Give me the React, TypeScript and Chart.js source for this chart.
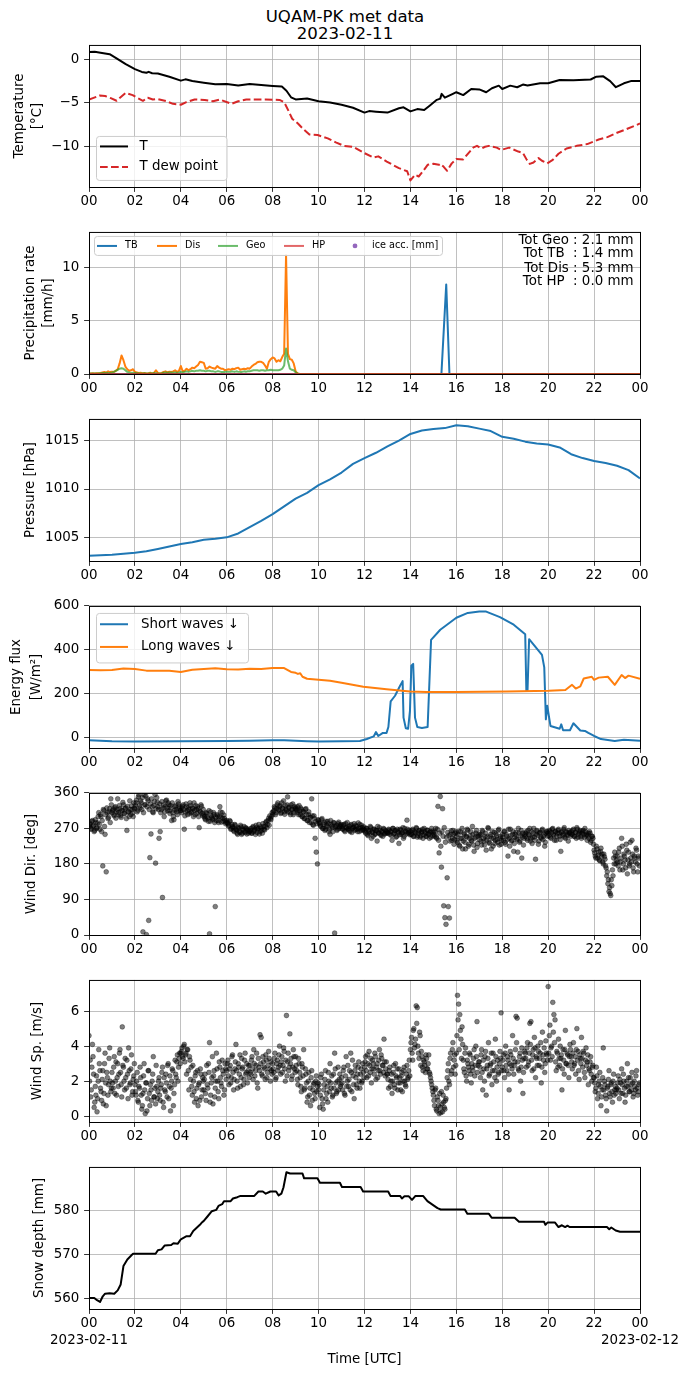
import { useEffect, useRef } from 'react';
import { Chart, registerables } from 'chart.js';

Chart.register(...registerables);

const FONT = 'DejaVu Sans';
const TXT = 13.4;

// ---------------- text / ticks ----------------
const titleLines = ['UQAM-PK met data', '2023-02-11'];
const hourTicks = [0, 2, 4, 6, 8, 10, 12, 14, 16, 18, 20, 22, 24];
const dayLabels = ['2023-02-11', '2023-02-12'];
const tempTicks = [-10, -5, 0];
const precipTicks = [0, 5, 10];
const presTicks = [1005, 1010, 1015];
const fluxTicks = [0, 200, 400, 600];
const dirTicks = [0, 90, 180, 270, 360];
const speedTicks = [0, 2, 4, 6];
const snowTicks = [560, 570, 580];

const tempLegend = ['T', 'T dew point'];
const precipLegend = ['TB', 'Dis', 'Geo', 'HP', 'ice acc. [mm]'];
const fluxLegend = ['Short waves \u2193', 'Long waves \u2193'];
const totNames = ['Geo', 'TB ', 'Dis', 'HP '];
const totValues = [2.1, 1.4, 5.3, 0.0];

// ---------------- data ----------------
// [hour, °C]
const tempT: [number, number][] = [
  [0, 0.83], [0.25, 0.85], [0.5, 0.75], [0.9, 0.57], [1.2, 0.1], [1.6, -0.57], [2.0, -1.13], [2.3, -1.45],
  [2.5, -1.55], [2.6, -1.44], [2.75, -1.6], [3.0, -1.63], [3.5, -2.0], [4.0, -2.45], [4.2, -2.3], [4.5, -2.5],
  [5.0, -2.68], [5.5, -2.87], [6.0, -2.83], [6.5, -3.0], [7.0, -2.83], [7.5, -2.95], [8.0, -3.05], [8.4, -3.13],
  [8.6, -3.6], [8.8, -4.35], [9.0, -4.6], [9.5, -4.5], [10.0, -4.8], [10.5, -4.95], [11.0, -5.2], [11.5, -5.55],
  [12.0, -6.1], [12.2, -5.93], [12.5, -6.0], [13.0, -6.1], [13.5, -5.6], [13.7, -5.5], [14.0, -5.96], [14.3, -5.7],
  [14.6, -5.8], [14.85, -5.28], [15.15, -4.64], [15.3, -4.5], [15.36, -3.96], [15.5, -4.4], [15.85, -3.96], [16.0, -3.77],
  [16.3, -4.1], [16.65, -3.4], [17.0, -3.45], [17.3, -3.77], [17.55, -3.32], [17.85, -3.02], [18.0, -3.4], [18.35, -3.02],
  [18.65, -3.2], [18.9, -2.9], [19.1, -3.0], [19.65, -2.75], [20.0, -2.75], [20.5, -2.38], [21.1, -2.4], [21.85, -2.32],
  [22.1, -2.0], [22.4, -1.96], [22.7, -2.5], [22.95, -3.2], [23.3, -2.75], [23.6, -2.5], [24.0, -2.5],
];
const dewT: [number, number][] = [
  [0, -4.6], [0.47, -4.15], [0.7, -4.2], [0.95, -4.45], [1.2, -4.75], [1.35, -4.4], [1.6, -3.85], [1.9, -4.1],
  [2.1, -4.4], [2.35, -4.75], [2.56, -4.4], [2.78, -4.6], [3.0, -4.55], [3.37, -4.8], [3.66, -5.1], [4.0, -5.2],
  [4.24, -4.9], [4.6, -4.6], [5.04, -4.65], [5.4, -4.8], [5.7, -4.6], [6.2, -5.1], [6.5, -4.8], [6.85, -4.6],
  [7.7, -4.6], [8.3, -4.65], [8.5, -4.9], [8.68, -5.85], [8.85, -6.8], [9.1, -7.35], [9.3, -7.9], [9.6, -8.6],
  [9.96, -8.66], [10.4, -9.05], [10.75, -9.5], [11.1, -9.9], [11.5, -10.0], [11.95, -10.67], [12.39, -11.24], [12.6, -11.1],
  [12.97, -11.7], [13.5, -12.45], [13.86, -12.8], [14.0, -13.85], [14.2, -13.2], [14.36, -13.4], [14.55, -12.8], [14.75, -12.07],
  [15.0, -11.95], [15.24, -12.07], [15.3, -11.95], [15.45, -12.3], [15.6, -12.75], [15.8, -11.9], [16.0, -11.4], [16.3, -11.45],
  [16.52, -10.75], [16.75, -10.07], [16.9, -9.9], [17.1, -10.2], [17.25, -10.0], [17.42, -9.9], [17.76, -10.1], [17.95, -10.37],
  [18.3, -10.1], [18.7, -10.55], [18.9, -10.7], [19.07, -11.5], [19.2, -11.96], [19.36, -11.8], [19.58, -11.3], [19.73, -11.6],
  [19.96, -11.9], [20.2, -11.5], [20.45, -10.8], [20.8, -10.2], [21.24, -9.9], [21.7, -9.7], [22.2, -9.17], [22.58, -8.9],
  [23.0, -8.4], [23.4, -8.0], [24.0, -7.35],
];

// precipitation rate [mm/h], 5-minute values, one row per hour (from 00 UTC)
const disRows: number[][] = [
  [0.05, 0.04, 0.06, 0.05, 0.08, 0.06, 0.1, 0.15, 0.2, 0.12, 0.25, 0.18],
  [0.22, 0.2, 0.3, 0.45, 1.0, 1.75, 1.3, 0.7, 0.45, 0.3, 0.35, 0.45],
  [0.2, 0.15, 0.1, 0.12, 0.08, 0.1, 0.05, 0.08, 0.12, 0.05, 0.1, 0.35],
  [0.1, 0.05, 0.1, 0.2, 0.25, 0.15, 0.22, 0.2, 0.25, 0.35, 0.2, 0.3],
  [0.75, 0.25, 0.3, 0.5, 0.35, 0.45, 0.6, 0.55, 0.7, 0.85, 1.15, 1.1],
  [1.05, 0.5, 0.55, 0.7, 0.6, 0.55, 0.5, 0.75, 0.6, 0.5, 0.5, 0.37],
  [0.4, 0.45, 0.4, 0.5, 0.45, 0.55, 0.6, 0.4, 0.45, 0.5, 0.45, 0.55],
  [0.5, 0.7, 0.85, 0.95, 1.1, 1.15, 1.15, 1.05, 0.8, 0.5, 1.15, 1.4],
  [1.56, 1.47, 1.15, 1.3, 1.2, 1.6, 1.9, 11.2, 1.9, 1.4, 1.35, 1.0],
  [0.25, 0.05, 0, 0],
];
const geoRows: number[][] = [
  [0.05, 0.05, 0.05, 0.05, 0.05, 0.06, 0.08, 0.1, 0.1, 0.12, 0.1, 0.12],
  [0.15, 0.2, 0.3, 0.4, 0.5, 0.55, 0.5, 0.35, 0.2, 0.15, 0.1, 0.12],
  [0.1, 0.08, 0.06, 0.05, 0.05, 0.06, 0.05, 0.05, 0.06, 0.05, 0.1, 0.06],
  [0.05, 0.05, 0.08, 0.12, 0.15, 0.12, 0.15, 0.15, 0.12, 0.15, 0.12, 0.15],
  [0.2, 0.15, 0.2, 0.25, 0.2, 0.25, 0.3, 0.25, 0.3, 0.3, 0.35, 0.3],
  [0.3, 0.25, 0.3, 0.3, 0.25, 0.25, 0.2, 0.25, 0.25, 0.2, 0.2, 0.2],
  [0.22, 0.2, 0.22, 0.25, 0.2, 0.25, 0.22, 0.2, 0.2, 0.25, 0.22, 0.25],
  [0.25, 0.3, 0.35, 0.35, 0.35, 0.3, 0.35, 0.35, 0.3, 0.35, 0.35, 0.4],
  [0.35, 0.35, 0.35, 0.35, 0.4, 0.5, 0.8, 2.4, 1.2, 0.5, 0.4, 0.35],
  [0.15, 0.05, 0, 0],
];
const dryTail: [number, number][] = [[24, 0]];
const tbRate: [number, number][] = [[0, 0], [15.35, 0], [15.56, 8.45], [15.7, 0], [24, 0]];
const hpRate: [number, number][] = [[0, 0], [24, 0]];

// pressure [hPa], every 30 min
const pressure = [
  1003.1, 1003.15, 1003.2, 1003.3, 1003.4, 1003.55, 1003.8, 1004.05, 1004.3, 1004.5, 1004.75, 1004.85,
  1005.0, 1005.4, 1006.05, 1006.7, 1007.4, 1008.2, 1009.0, 1009.6, 1010.4, 1011.0, 1011.7, 1012.6,
  1013.2, 1013.75, 1014.4, 1015.0, 1015.7, 1016.05, 1016.2, 1016.3, 1016.6, 1016.5, 1016.25, 1016.0,
  1015.4, 1015.2, 1014.9, 1014.7, 1014.6, 1014.3, 1013.6, 1013.2, 1012.9, 1012.7, 1012.4, 1011.95, 1011.1,
];

// energy flux [W/m2]
const shortWave: [number, number][] = [
  [0, -14], [1, -19], [2, -20], [4, -19], [6, -18], [7, -17], [8, -14], [8.5, -15], [9.5, -19], [10, -20],
  [11, -19], [11.8, -18], [12.1, -9], [12.4, 3], [12.5, 23], [12.6, 5], [12.8, 19], [12.96, 19], [13.04, 46],
  [13.14, 163], [13.33, 189], [13.55, 235], [13.66, 256], [13.7, 89], [13.8, 40], [13.9, 38], [13.98, 120],
  [14.04, 327], [14.12, 335], [14.2, 89], [14.3, 46], [14.5, 42], [14.75, 46], [14.9, 445], [15.3, 491],
  [16, 546], [16.5, 568], [17, 575], [17.3, 574], [17.9, 549], [18.5, 514], [19.0, 470], [19.05, 212],
  [19.1, 212], [19.17, 448], [19.73, 376], [19.83, 319], [19.9, 81], [19.96, 143], [20.1, 51], [20.5, 38],
  [20.57, 58], [20.65, 31], [20.95, 31], [21.1, 63], [21.4, 30], [21.6, 28], [21.75, 19], [22.0, 5],
  [22.3, -9], [22.9, -18], [23.3, -12], [24, -17],
];
const longWave: [number, number][] = [
  [0, 307], [0.5, 306], [1, 307], [1.5, 314], [2, 311], [2.5, 304], [3, 304], [3.5, 303], [4, 298], [4.5, 308],
  [5, 312], [5.5, 315], [6, 310], [6.5, 309], [7, 313], [7.5, 312], [8, 316], [8.5, 316], [8.8, 298], [9.0, 294],
  [9.1, 289], [9.2, 292], [9.3, 276], [9.5, 267], [10, 262], [10.5, 258], [11, 249], [11.95, 230], [12.96, 219],
  [13.98, 209], [14.7, 206], [16, 206], [18.2, 209], [20.03, 212], [20.75, 215], [21.04, 239], [21.2, 222],
  [21.4, 232], [21.55, 268], [21.9, 276], [22.0, 262], [22.2, 272], [22.6, 276], [22.9, 239], [23.2, 284],
  [23.35, 270], [23.5, 281], [24, 267],
];

// wind direction [deg], 3-minute samples, one row per hour
const windDirRows: number[][] = [
  [275, 282, 268, 290, 278, 265, 285, 272, 300, 280, 305, 262, 175, 315, 255, 160, 310, 298, 320, 345],
  [310, 318, 302, 325, 312, 345, 305, 320, 298, 315, 330, 308, 322, 265, 312, 300, 318, 327, 309, 335],
  [320, 335, 312, 350, 328, 340, 318, 8, 355, 330, 1, 345, 37, 196, 256, 325, 310, 338, 182, 348],
  [325, 245, 262, 318, 95, 330, 312, 340, 322, 335, 315, 328, 290, 310, 292, 325, 318, 305, 332, 320],
  [315, 322, 330, 268, 312, 325, 305, 318, 335, 310, 322, 300, 316, 328, 308, 320, 272, 312, 326, 302],
  [305, 295, 310, 300, 288, 3, 312, 298, 292, 305, 72, 290, 302, 285, 325, 298, 310, 288, 295, 282],
  [290, 282, 278, 288, 270, 275, 265, 280, 268, 258, 272, 262, 278, 255, 268, 275, 260, 270, 265, 258],
  [262, 270, 258, 275, 265, 255, 272, 268, 280, 262, 270, 258, 275, 266, 285, 272, 290, 278, 295, 300],
  [305, 315, 322, 310, 330, 318, 325, 308, 335, 320, 312, 328, 316, 350, 322, 310, 330, 318, 305, 325],
  [322, 315, 310, 328, 305, 318, 300, 312, 295, 320, 290, 305, 285, 298, 345, 280, 302, 245, 210, 180],
  [290, 282, 275, 295, 270, 285, 268, 278, 288, 262, 255, 280, 272, 285, 5, 275, 265, 282, 270, 278],
  [275, 268, 280, 262, 272, 285, 270, 265, 278, 260, 272, 282, 268, 275, 262, 270, 280, 265, 272, 268],
  [265, 258, 270, 252, 262, 275, 245, 260, 268, 255, 265, 238, 260, 272, 255, 262, 250, 268, 258, 262],
  [260, 268, 255, 262, 240, 270, 258, 265, 250, 262, 232, 268, 255, 260, 245, 270, 262, 291, 258, 265],
  [262, 255, 268, 250, 260, 272, 248, 258, 265, 252, 262, 245, 270, 258, 250, 265, 255, 260, 248, 262],
  [260, 250, 270, 245, 326, 208, 351, 172, 320, 74, 44, 27, 145, 72, 43, 255, 240, 265, 230, 258],
  [250, 235, 262, 225, 245, 270, 238, 255, 218, 248, 265, 230, 252, 240, 275, 228, 245, 258, 222, 250],
  [242, 255, 228, 262, 238, 250, 215, 248, 270, 232, 255, 245, 225, 260, 240, 252, 235, 268, 245, 230],
  [255, 240, 262, 230, 250, 200, 245, 268, 238, 255, 212, 248, 260, 242, 270, 235, 252, 195, 258, 245],
  [250, 262, 240, 255, 270, 245, 232, 258, 248, 192, 265, 252, 238, 260, 245, 268, 250, 225, 258, 262],
  [258, 265, 248, 260, 270, 252, 262, 240, 258, 268, 250, 212, 262, 255, 272, 245, 260, 252, 265, 258],
  [262, 255, 268, 250, 260, 272, 248, 258, 265, 245, 262, 255, 270, 252, 240, 258, 262, 235, 250, 245],
  [215, 200, 225, 195, 210, 188, 220, 205, 180, 198, 175, 150, 130, 110, 105, 140, 165, 195, 210, 180],
  [200, 175, 220, 185, 245, 165, 205, 190, 230, 155, 210, 180, 195, 240, 170, 200, 185, 215, 160, 195],
];
// second set of samples, taken 1.5 min after each of the above
const windDirRowsB: number[][] = [
  [280, 270, 288, 276, 262, 292, 270, 284, 310, 268, 300, 290, 318, 275, 305, 322, 295, 312, 285, 330],
  [315, 305, 322, 296, 318, 310, 328, 302, 316, 336, 308, 320, 295, 326, 312, 340, 305, 318, 300, 322],
  [328, 342, 316, 355, 322, 335, 348, 310, 330, 352, 325, 340, 318, 332, 345, 312, 328, 356, 320, 336],
  [318, 332, 310, 338, 322, 300, 326, 342, 315, 330, 308, 322, 335, 300, 316, 328, 312, 338, 325, 315],
  [310, 326, 318, 302, 332, 315, 322, 308, 328, 312, 320, 335, 305, 318, 325, 300, 314, 330, 308, 318],
  [300, 292, 308, 296, 315, 288, 302, 295, 310, 285, 298, 305, 290, 300, 312, 286, 296, 304, 290, 285],
  [285, 276, 290, 268, 280, 272, 262, 278, 266, 255, 270, 260, 274, 258, 266, 262, 272, 256, 268, 262],
  [265, 258, 272, 262, 268, 278, 260, 270, 256, 274, 265, 282, 268, 276, 288, 280, 296, 302, 292, 310],
  [312, 325, 305, 320, 335, 315, 328, 310, 322, 340, 306, 318, 330, 312, 324, 305, 318, 332, 310, 320],
  [318, 325, 305, 315, 322, 300, 312, 295, 318, 305, 290, 312, 298, 285, 302, 278, 295, 288, 282, 292],
  [285, 278, 292, 270, 280, 265, 288, 275, 282, 268, 290, 276, 262, 284, 272, 278, 268, 286, 274, 280],
  [270, 278, 265, 282, 272, 268, 276, 262, 280, 270, 274, 265, 278, 268, 284, 262, 272, 278, 266, 274],
  [262, 270, 255, 266, 258, 272, 262, 250, 268, 256, 264, 275, 258, 266, 252, 262, 270, 256, 264, 258],
  [258, 266, 262, 252, 270, 256, 264, 248, 268, 260, 254, 266, 258, 272, 250, 262, 256, 268, 260, 254],
  [255, 265, 250, 262, 258, 270, 252, 264, 248, 260, 268, 254, 262, 250, 266, 256, 245, 262, 270, 252],
  [255, 262, 248, 268, 240, 258, 225, 262, 250, 272, 235, 248, 260, 252, 238, 264, 245, 255, 242, 262],
  [240, 255, 228, 262, 245, 218, 258, 235, 250, 268, 225, 245, 262, 238, 255, 212, 248, 265, 232, 255],
  [252, 238, 265, 245, 228, 258, 240, 272, 235, 250, 218, 262, 245, 232, 256, 242, 265, 228, 250, 240],
  [248, 262, 235, 255, 242, 268, 225, 252, 240, 262, 232, 255, 245, 210, 258, 238, 265, 248, 228, 255],
  [258, 245, 265, 252, 238, 262, 248, 270, 240, 255, 262, 230, 258, 248, 265, 242, 255, 235, 262, 250],
  [252, 262, 245, 268, 255, 240, 262, 250, 265, 258, 242, 260, 252, 268, 248, 262, 255, 238, 260, 250],
  [255, 265, 250, 260, 245, 268, 255, 262, 250, 258, 265, 248, 262, 255, 252, 245, 258, 240, 250, 230],
  [208, 195, 218, 202, 190, 212, 200, 185, 205, 192, 170, 160, 140, 120, 100, 125, 150, 180, 200, 190],
  [185, 210, 165, 195, 225, 180, 200, 170, 215, 190, 175, 235, 185, 205, 160, 195, 220, 180, 200, 175],
];

// wind speed [m/s], 3-minute samples, one row per hour
const windSpRows: number[][] = [
  [4.6, 3.2, 1.5, 4.1, 2.4, 0.8, 1.2, 0.25, 2.0, 3.0, 1.6, 0.9, 2.6, 1.3, 3.6, 0.6, 2.2, 1.8, 3.9, 1.4],
  [2.5, 1.6, 3.4, 2.0, 1.2, 3.0, 2.4, 3.8, 1.8, 5.1, 2.8, 1.5, 2.2, 3.2, 1.0, 2.6, 1.9, 3.5, 1.4, 2.3],
  [1.8, 1.2, 2.5, 0.8, 1.6, 2.2, 0.4, 1.3, 3.0, 0.15, 1.9, 1.0, 2.6, 0.6, 1.5, 2.0, 3.4, 1.1, 0.7, 1.7],
  [1.4, 2.2, 0.9, 1.8, 2.8, 0.5, 1.5, 2.4, 1.1, 3.0, 1.7, 0.3, 2.0, 2.6, 1.3, 3.2, 2.2, 3.5, 2.8, 3.6],
  [3.6, 3.9, 3.3, 4.1, 3.5, 2.4, 3.8, 1.5, 3.2, 2.8, 1.2, 2.0, 0.8, 2.5, 1.6, 0.6, 1.9, 2.7, 1.1, 2.2],
  [1.5, 2.4, 0.9, 1.8, 3.0, 4.2, 1.2, 2.2, 0.7, 2.6, 1.6, 3.6, 2.0, 1.0, 2.8, 1.9, 3.2, 2.4, 1.5, 2.7],
  [2.6, 3.2, 1.8, 2.9, 2.2, 3.5, 1.5, 2.7, 4.1, 2.0, 3.0, 2.4, 1.7, 3.3, 2.8, 2.1, 3.6, 2.5, 1.9, 2.9],
  [2.9, 2.4, 3.4, 2.1, 3.0, 2.6, 3.6, 1.6, 2.8, 4.65, 4.5, 2.3, 3.1, 2.7, 3.5, 2.2, 2.9, 3.3, 2.0, 2.6],
  [3.0, 2.5, 3.6, 2.2, 3.2, 2.8, 4.0, 2.4, 3.4, 2.9, 3.7, 2.0, 5.75, 3.1, 2.6, 4.7, 3.3, 2.3, 3.8, 2.7],
  [3.4, 2.6, 1.8, 3.0, 2.2, 1.4, 2.8, 3.8, 1.6, 2.4, 0.8, 2.0, 1.2, 0.6, 2.6, 1.5, 1.9, 1.0, 2.3, 1.7],
  [1.5, 0.5, 2.2, 1.0, 0.4, 1.8, 2.6, 1.3, 0.8, 2.0, 3.0, 1.6, 1.1, 2.4, 3.6, 1.9, 1.4, 2.8, 2.1, 1.7],
  [2.2, 1.5, 2.8, 1.2, 3.4, 2.0, 1.7, 2.6, 3.6, 1.4, 2.3, 1.0, 2.9, 1.8, 2.4, 3.1, 1.6, 2.7, 2.0, 2.5],
  [2.8, 3.4, 2.2, 3.0, 3.7, 2.5, 1.9, 3.2, 2.7, 3.6, 2.1, 3.0, 2.6, 3.8, 2.4, 3.3, 2.9, 4.4, 2.3, 3.1],
  [2.4, 1.6, 2.8, 2.0, 1.3, 2.5, 1.8, 3.0, 2.2, 1.5, 2.7, 1.9, 2.3, 1.4, 2.6, 2.0, 1.7, 2.9, 2.2, 3.2],
  [3.8, 4.5, 3.2, 5.0, 4.1, 6.3, 6.2, 3.6, 4.8, 2.9, 3.4, 2.6, 3.1, 2.5, 3.3, 2.7, 3.5, 2.4, 2.0, 1.6],
  [1.2, 0.6, 1.6, 0.3, 0.9, 0.15, 0.5, 1.4, 0.25, 0.8, 0.4, 1.0, 2.2, 3.0, 1.8, 3.6, 2.6, 4.2, 3.2, 2.4],
  [3.6, 6.9, 6.4, 5.8, 4.4, 5.1, 3.2, 2.5, 3.9, 2.0, 3.0, 2.6, 3.5, 1.9, 2.8, 3.3, 2.3, 4.0, 5.4, 2.9],
  [3.1, 2.2, 3.8, 1.5, 2.7, 3.4, 1.2, 2.9, 4.2, 2.4, 3.0, 1.8, 3.6, 2.6, 4.4, 2.0, 3.2, 2.5, 3.7, 5.9],
  [2.8, 3.5, 2.2, 4.0, 2.6, 3.2, 1.5, 3.7, 2.9, 4.6, 2.4, 3.1, 5.7, 5.6, 2.7, 3.4, 2.0, 3.9, 1.3, 3.3],
  [3.6, 2.8, 4.2, 3.1, 5.3, 5.4, 2.6, 3.8, 4.5, 2.2, 3.3, 4.0, 2.9, 3.6, 1.9, 4.8, 3.2, 2.5, 4.3, 3.5],
  [7.4, 4.6, 3.2, 4.0, 6.5, 5.8, 5.5, 2.6, 3.6, 4.4, 2.9, 3.3, 1.5, 3.8, 2.4, 4.9, 3.0, 3.5, 2.2, 4.1],
  [3.4, 2.7, 4.2, 3.0, 2.4, 5.0, 3.7, 2.1, 3.3, 4.5, 2.8, 3.6, 2.2, 3.9, 3.1, 1.8, 2.6, 3.4, 2.0, 2.9],
  [2.2, 1.4, 2.8, 1.0, 1.8, 2.5, 0.6, 1.5, 3.9, 2.0, 1.2, 0.3, 1.7, 2.6, 1.1, 1.9, 0.8, 2.4, 1.5, 1.3],
  [1.6, 2.3, 1.0, 1.9, 2.7, 1.3, 2.0, 0.8, 1.7, 3.0, 2.2, 1.4, 1.8, 2.5, 1.1, 2.0, 1.5, 2.6, 1.2, 1.8],
];
const windSpRowsB: number[][] = [
  [2.0, 1.1, 2.8, 3.4, 0.5, 1.7, 2.3, 1.0, 3.8, 2.6, 1.4, 2.1, 0.7, 3.0, 1.9, 2.5, 1.2, 3.3, 2.0, 1.6],
  [1.9, 2.8, 1.3, 3.1, 2.2, 1.7, 3.6, 2.5, 1.1, 2.9, 2.0, 3.3, 1.6, 2.4, 3.9, 1.8, 2.7, 1.2, 2.1, 3.0],
  [1.4, 2.0, 0.9, 1.7, 2.8, 1.2, 0.6, 2.3, 1.5, 1.9, 0.3, 2.6, 1.3, 1.8, 0.9, 2.4, 1.1, 1.6, 2.9, 1.0],
  [2.0, 1.2, 1.6, 2.5, 0.8, 2.2, 1.4, 1.9, 2.9, 1.0, 2.3, 1.6, 2.7, 0.6, 1.8, 2.4, 3.1, 2.0, 3.3, 3.0],
  [3.7, 3.4, 4.0, 3.1, 3.6, 3.8, 2.6, 3.4, 2.1, 1.7, 2.9, 1.4, 2.3, 1.0, 2.6, 1.8, 0.9, 2.4, 1.5, 2.0],
  [2.1, 1.3, 2.9, 1.6, 2.5, 0.8, 1.9, 3.4, 2.3, 1.1, 2.0, 2.7, 1.4, 3.1, 2.2, 1.7, 2.6, 1.2, 3.0, 2.1],
  [3.0, 2.3, 2.7, 1.9, 3.4, 2.5, 2.1, 3.1, 2.6, 1.6, 2.8, 3.5, 2.2, 2.7, 1.8, 3.2, 2.4, 3.0, 2.6, 2.2],
  [2.5, 3.2, 2.7, 3.8, 2.3, 2.9, 1.9, 3.3, 2.6, 3.0, 2.4, 3.4, 2.8, 2.1, 3.2, 2.5, 3.7, 2.7, 3.1, 2.4],
  [2.7, 3.3, 2.1, 3.0, 2.6, 3.5, 2.9, 3.1, 2.5, 3.9, 2.7, 3.2, 2.3, 3.6, 2.8, 3.0, 2.1, 2.8, 3.4, 2.5],
  [2.9, 2.1, 3.3, 2.5, 1.7, 3.0, 2.3, 1.5, 2.7, 1.9, 1.1, 2.5, 1.6, 2.2, 0.9, 1.8, 1.3, 2.0, 1.4, 1.9],
  [1.8, 1.2, 2.4, 0.7, 1.5, 2.1, 1.0, 1.7, 2.5, 1.4, 1.9, 2.3, 1.2, 1.6, 2.7, 1.3, 2.0, 1.5, 2.4, 1.8],
  [1.9, 2.6, 1.3, 2.3, 1.7, 2.9, 2.1, 1.5, 2.5, 3.2, 1.8, 2.6, 2.2, 1.6, 2.8, 2.0, 2.4, 1.9, 3.0, 2.2],
  [3.1, 2.6, 3.5, 2.3, 2.9, 3.3, 2.7, 3.0, 2.4, 3.4, 2.8, 2.2, 3.2, 2.6, 3.5, 2.9, 2.5, 3.1, 2.7, 2.4],
  [2.1, 2.6, 1.7, 2.4, 2.0, 2.9, 1.6, 2.3, 2.7, 1.9, 2.2, 1.5, 2.5, 2.0, 2.8, 1.8, 2.4, 2.1, 2.6, 2.3],
  [4.2, 3.6, 4.9, 3.9, 4.4, 5.3, 4.0, 3.3, 4.6, 3.7, 2.8, 3.2, 2.9, 3.5, 2.7, 3.0, 2.5, 2.2, 1.8, 1.4],
  [0.9, 1.5, 0.4, 1.1, 0.6, 1.3, 0.2, 0.7, 1.2, 0.5, 0.9, 1.6, 2.6, 2.0, 3.3, 2.4, 3.8, 2.8, 3.5, 2.9],
  [4.6, 5.5, 3.8, 4.9, 3.3, 4.1, 2.7, 3.6, 2.3, 3.2, 2.8, 3.6, 2.4, 3.0, 2.6, 3.8, 2.9, 3.4, 2.5, 3.1],
  [2.8, 3.5, 2.5, 3.2, 2.0, 3.7, 2.7, 3.3, 2.3, 2.9, 3.6, 2.6, 3.1, 2.2, 3.4, 2.8, 2.4, 3.0, 3.3, 2.6],
  [3.2, 2.6, 3.6, 2.9, 3.4, 2.4, 3.0, 3.5, 2.7, 3.3, 2.9, 3.8, 4.2, 3.1, 2.6, 3.6, 2.8, 3.2, 2.5, 3.7],
  [3.3, 3.9, 2.9, 3.6, 4.1, 3.2, 3.5, 2.7, 3.9, 3.4, 2.9, 3.7, 3.3, 4.2, 2.8, 3.5, 3.9, 3.0, 3.6, 3.2],
  [3.6, 5.2, 3.9, 3.4, 4.8, 4.2, 3.1, 3.7, 2.8, 3.3, 4.0, 3.5, 2.7, 3.2, 3.8, 3.0, 3.6, 2.9, 3.4, 3.8],
  [3.1, 3.6, 2.9, 3.4, 3.8, 3.2, 2.6, 3.5, 3.0, 3.3, 3.7, 2.5, 3.2, 2.9, 3.5, 2.7, 3.1, 2.4, 2.8, 2.2],
  [1.9, 1.6, 2.3, 1.3, 2.0, 1.7, 1.1, 2.2, 1.5, 1.8, 1.0, 1.6, 2.1, 1.3, 1.8, 1.4, 2.0, 1.2, 1.7, 1.5],
  [1.9, 1.5, 2.1, 1.3, 1.8, 2.4, 1.6, 1.2, 2.0, 1.7, 1.4, 2.2, 1.5, 1.9, 1.3, 1.7, 2.3, 1.6, 1.4, 1.9],
];

// snow depth [mm]
const snowDepth: [number, number][] = [
  [0, 560], [0.23, 560], [0.35, 559.5], [0.48, 559.1], [0.6, 560.4], [0.7, 561], [0.9, 561.1], [1.1, 561],
  [1.25, 561.75], [1.38, 563.1], [1.5, 567.3], [1.67, 568.8], [1.86, 569.8], [1.92, 570.1], [2.9, 570.1], [3.0, 570.9],
  [3.16, 571.1], [3.3, 572], [3.58, 572.1], [3.68, 572.5], [3.87, 572.4], [4.0, 573.4], [4.25, 574.1], [4.4, 574.1],
  [4.54, 575.3], [4.83, 576.7], [4.93, 577.3], [5.0, 577.6], [5.16, 578.6], [5.35, 579.8], [5.54, 580.1], [5.64, 581],
  [5.8, 581.4], [5.88, 582.1], [6.17, 582.1], [6.27, 582.7], [6.46, 583], [6.6, 583.3], [7.2, 583.3], [7.38, 584.3],
  [7.57, 584.3], [7.7, 583.8], [7.9, 584.3], [8.15, 584.3], [8.26, 583.4], [8.38, 583.8], [8.47, 585.2], [8.6, 588.7],
  [8.76, 588.4], [9.3, 588.4], [9.37, 587.3], [9.95, 587.3], [10.06, 586.3], [10.93, 586.3], [11.02, 585.3], [11.83, 585.3],
  [11.94, 584.3], [13.03, 584.3], [13.13, 583.3], [13.55, 583.3], [13.63, 582.7], [13.74, 583.2], [13.93, 583.2], [14.07, 582.4],
  [14.22, 583.3], [14.55, 583.3], [14.74, 582.1], [14.99, 581.2], [15.18, 580.5], [15.32, 580.2], [16.37, 580.2], [16.48, 579.2],
  [17.42, 579.2], [17.54, 578.3], [18.54, 578.3], [18.73, 577.4], [19.82, 577.4], [19.88, 576.7], [19.97, 577.2], [20.3, 577.2],
  [20.45, 576.2], [20.6, 576.6], [20.74, 576.2], [20.84, 576.5], [20.93, 576.2], [22.56, 576.2], [22.66, 575.7], [22.75, 576.1],
  [22.94, 575.4], [23.13, 575.1], [24, 575.1],
];

// ---------------- helpers ----------------
const C = {
  blue: '#1f77b4',
  orange: '#ff7f0e',
  green: 'rgba(44,160,44,0.7)',
  red: '#d62728',
  redA: 'rgba(214,39,40,0.7)',
  purple: '#9467bd',
};

const pts = (arr: [number, number][]) => arr.map(([x, y]) => ({ x, y }));
const rowsToPts = (rows: number[][], perHour: number, offset = 0) =>
  rows.flatMap((row, h) => row.map((y, j) => ({ x: h + (j + offset) / perHour, y })));
const halfHourly = (vals: number[]) => vals.map((y, i) => ({ x: i * 0.5, y }));
const pad2 = (v: number) => (v < 10 ? '0' + v : String(v));
const fmtY = (v: number) => (v < 0 ? '\u2212' + -v : String(v));

const gridOpts = {
  color: '#b0b0b0',
  lineWidth: 0.8,
  drawTicks: true,
  tickLength: 4.9,
  tickWidth: 0.8,
  tickColor: '#000',
};

function xScale(last: boolean) {
  return {
    type: 'linear',
    min: 0,
    max: 24,
    afterBuildTicks: (s: any) => {
      s.ticks = hourTicks.map((v) => ({ value: v }));
    },
    afterFit: (s: any) => {
      s.height = last ? 68 : 45;
    },
    ticks: {
      autoSkip: false,
      maxRotation: 0,
      minRotation: 0,
      padding: 2,
      color: '#000',
      font: { family: FONT, size: TXT, lineHeight: 1.2 },
      callback: (v: number) => {
        const h = pad2(v % 24);
        if (last && v === 0) return [h, dayLabels[0]];
        if (last && v === 24) return [h, dayLabels[1]];
        return h;
      },
    },
    grid: gridOpts,
    border: { display: false },
    title: last
      ? {
          display: true,
          text: 'Time [UTC]',
          color: '#000',
          font: { family: FONT, size: TXT, lineHeight: 1.2 },
          padding: { top: 0, bottom: 9 },
        }
      : { display: false },
  };
}

function yScale(min: number, max: number, ticks: number[], title: string | string[], titlePad: number, lh = 1.27) {
  return {
    type: 'linear',
    min,
    max,
    afterBuildTicks: (s: any) => {
      s.ticks = ticks.map((v) => ({ value: v }));
    },
    afterFit: (s: any) => {
      s.width = 89;
    },
    ticks: {
      color: '#000',
      padding: 4.9,
      font: { family: FONT, size: TXT },
      callback: (v: number) => fmtY(v),
    },
    grid: gridOpts,
    border: { display: false },
    title: {
      display: true,
      text: title,
      color: '#000',
      font: { family: FONT, size: TXT, lineHeight: lh },
      padding: { top: titlePad, bottom: 0 },
    },
  };
}

function opts(last: boolean, y: any) {
  return {
    responsive: false,
    animation: false,
    events: [],
    layout: { padding: { left: 0, right: 50, top: 12, bottom: 0 } },
    plugins: { legend: { display: false }, tooltip: { enabled: false }, title: { display: false } },
    elements: {
      point: { radius: 0, hoverRadius: 0 },
      line: { tension: 0, borderJoinStyle: 'round', borderCapStyle: 'butt', borderWidth: 2 },
    },
    scales: { x: xScale(last), y },
  };
}

const framePlugin = {
  id: 'frame',
  afterDatasetsDraw(chart: any) {
    const { ctx, chartArea: a } = chart;
    ctx.save();
    ctx.strokeStyle = '#000';
    ctx.lineWidth = 1;
    ctx.strokeRect(a.left + 0.5, a.top + 0.5, a.right - a.left, a.bottom - a.top);
    ctx.restore();
  },
};

function legendBox(ctx: CanvasRenderingContext2D, x: number, y: number, w: number, h: number) {
  ctx.save();
  ctx.beginPath();
  (ctx as any).roundRect(x, y, w, h, 3);
  ctx.fillStyle = 'rgba(255,255,255,0.8)';
  ctx.fill();
  ctx.strokeStyle = '#cccccc';
  ctx.lineWidth = 1;
  ctx.stroke();
  ctx.restore();
}
function sampleLine(ctx: CanvasRenderingContext2D, x1: number, x2: number, y: number, color: string, dash: number[] = []) {
  ctx.save();
  ctx.beginPath();
  ctx.setLineDash(dash);
  ctx.strokeStyle = color;
  ctx.lineWidth = 2;
  ctx.moveTo(x1, y);
  ctx.lineTo(x2, y);
  ctx.stroke();
  ctx.restore();
}
function label(ctx: CanvasRenderingContext2D, text: string, x: number, y: number, size: number, align: CanvasTextAlign = 'left') {
  ctx.save();
  ctx.font = `${size}px "${FONT}"`;
  ctx.fillStyle = '#000';
  ctx.textAlign = align;
  ctx.textBaseline = 'middle';
  ctx.fillText(text, x, y);
  ctx.restore();
}

const tempStyles = [
  { color: '#000', dash: [] as number[] },
  { color: C.red, dash: [7.7, 3.3] },
];
const tempLegendPlugin = {
  id: 'tempLegend',
  afterDraw(chart: any) {
    const { ctx, chartArea: a } = chart;
    legendBox(ctx, a.left + 7.5, a.top + 91.5, 130.5, 44);
    const rows = [a.top + 101.5, a.top + 122];
    tempLegend.forEach((t, i) => {
      sampleLine(ctx, a.left + 11, a.left + 39, rows[i], tempStyles[i].color, tempStyles[i].dash);
      label(ctx, t, a.left + 50.5, rows[i], TXT);
    });
  },
};

const precipColors = [C.blue, C.orange, C.green, C.redA];
const precipLegendPlugin = {
  id: 'precipLegend',
  afterDraw(chart: any) {
    const { ctx, chartArea: a } = chart;
    legendBox(ctx, a.left + 5.5, a.top + 4.5, 348, 19);
    const y = a.top + 14;
    const starts = [8, 68, 129, 195];
    precipColors.forEach((c, i) => {
      sampleLine(ctx, a.left + starts[i], a.left + starts[i] + 20, y, c);
      label(ctx, precipLegend[i], a.left + starts[i] + 28, y, 9.7);
    });
    ctx.save();
    ctx.beginPath();
    ctx.fillStyle = C.purple;
    ctx.arc(a.left + 266, y, 2.4, 0, Math.PI * 2);
    ctx.fill();
    ctx.restore();
    label(ctx, precipLegend[4], a.left + 283, y, 9.7);
    // totals text box (upper right)
    const ys = [8.3, 22, 36.3, 50];
    totNames.forEach((n, i) => {
      label(ctx, `Tot ${n} : ${totValues[i].toFixed(1)} mm`, a.right - 6.5, a.top + ys[i], TXT, 'right');
    });
  },
};

const fluxColors = [C.blue, C.orange];
const fluxLegendPlugin = {
  id: 'fluxLegend',
  afterDraw(chart: any) {
    const { ctx, chartArea: a } = chart;
    legendBox(ctx, a.left + 7.5, a.top + 7.5, 152, 49.5);
    const rows = [a.top + 18.3, a.top + 41];
    fluxLegend.forEach((t, i) => {
      sampleLine(ctx, a.left + 11, a.left + 39, rows[i], fluxColors[i]);
      label(ctx, t, a.left + 52, rows[i], TXT);
    });
  },
};

const scatterStyle = {
  pointRadius: 2.4,
  pointHoverRadius: 2.4,
  pointBackgroundColor: 'rgba(0,0,0,0.5)',
  pointBorderColor: 'rgba(0,0,0,0.5)',
  pointBorderWidth: 0.7,
};

// ---------------- panel configs ----------------
const tempConfig = () => ({
  type: 'line',
  data: {
    datasets: [
      { data: pts(tempT), borderColor: '#000', borderWidth: 2, order: 2 },
      { data: pts(dewT), borderColor: C.red, borderWidth: 2, borderDash: [7.7, 3.3], order: 1 },
    ],
  },
  options: opts(false, yScale(-14.6, 1.63, tempTicks, ['Temperature', '[°C]'], 11.5)),
  plugins: [framePlugin, tempLegendPlugin],
});

const precipConfig = () => ({
  type: 'line',
  data: {
    datasets: [
      { data: pts(tbRate), borderColor: C.blue, borderWidth: 2, order: 4 },
      { data: [...rowsToPts(disRows, 12), ...pts(dryTail)], borderColor: C.orange, borderWidth: 2, order: 3 },
      { data: [...rowsToPts(geoRows, 12), ...pts(dryTail)], borderColor: C.green, borderWidth: 2, order: 2 },
      { data: pts(hpRate), borderColor: C.redA, borderWidth: 2, order: 1 },
    ],
  },
  options: opts(false, yScale(0, 13.4, precipTicks, ['Precipitation rate', '[mm/h]'], 22.5)),
  plugins: [framePlugin, precipLegendPlugin],
});

const presConfig = () => ({
  type: 'line',
  data: { datasets: [{ data: halfHourly(pressure), borderColor: C.blue, borderWidth: 2 }] },
  options: opts(false, yScale(1002.55, 1017.25, presTicks, 'Pressure [hPa]', 22)),
  plugins: [framePlugin],
});

const fluxConfig = () => ({
  type: 'line',
  data: {
    datasets: [
      { data: pts(shortWave), borderColor: C.blue, borderWidth: 2, order: 2 },
      { data: pts(longWave), borderColor: C.orange, borderWidth: 2, order: 1 },
    ],
  },
  options: opts(false, yScale(-50, 600, fluxTicks, ['Energy flux', '[W/m\u00b2]'], 6, 1.5)),
  plugins: [framePlugin, fluxLegendPlugin],
});

const dirConfig = () => ({
  type: 'scatter',
  data: {
    datasets: [
      { data: [...rowsToPts(windDirRows, 20), ...rowsToPts(windDirRowsB, 20, 0.5)], ...scatterStyle },
    ],
  },
  options: opts(false, yScale(0, 360, dirTicks, 'Wind Dir. [deg]', 23)),
  plugins: [framePlugin],
});

const speedConfig = () => ({
  type: 'scatter',
  data: {
    datasets: [
      { data: [...rowsToPts(windSpRows, 20), ...rowsToPts(windSpRowsB, 20, 0.5)], ...scatterStyle },
    ],
  },
  options: opts(false, yScale(-0.33, 7.78, speedTicks, 'Wind Sp. [m/s]', 29)),
  plugins: [framePlugin],
});

const snowConfig = () => ({
  type: 'line',
  data: { datasets: [{ data: pts(snowDepth), borderColor: '#000', borderWidth: 2 }] },
  options: opts(true, yScale(557.5, 589.9, snowTicks, 'Snow depth [mm]', 31)),
  plugins: [framePlugin],
});

const panels = [tempConfig, precipConfig, presConfig, fluxConfig, dirConfig, speedConfig, snowConfig];

function ChartPanel({ top, height, make }: { top: number; height: number; make: () => any }) {
  const ref = useRef<HTMLCanvasElement | null>(null);
  useEffect(() => {
    if (!ref.current) return;
    const chart = new Chart(ref.current, make());
    return () => chart.destroy();
  }, [make]);
  return (
    <canvas
      ref={ref}
      width={690}
      height={height}
      style={{ position: 'absolute', left: 0, top, width: 690, height }}
    />
  );
}

export default function App() {
  return (
    <div
      style={{
        position: 'absolute',
        left: 0,
        top: 0,
        width: 690,
        height: 1377,
        background: '#fff',
        fontFamily: `"${FONT}"`,
        overflow: 'hidden',
      }}
    >
      <div
        style={{
          position: 'absolute',
          left: 0,
          top: 7.8,
          width: 690,
          textAlign: 'center',
          fontSize: 16.6,
          lineHeight: '17px',
          color: '#000',
        }}
      >
        {titleLines.map((l) => (
          <div key={l}>{l}</div>
        ))}
      </div>
      {panels.map((p, k) => (
        <ChartPanel key={k} top={32 + 187 * k} height={k === 6 ? 223 : 200} make={p} />
      ))}
    </div>
  );
}
